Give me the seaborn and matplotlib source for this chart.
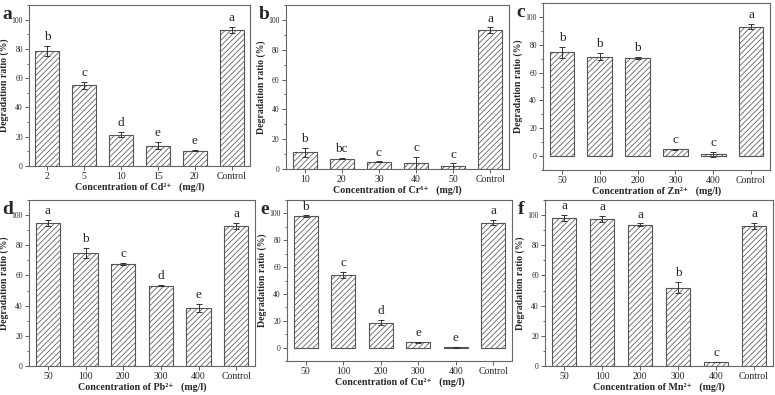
import numpy as np
import pandas as pd
import matplotlib
matplotlib.use("Agg")
import matplotlib.pyplot as plt
from matplotlib.ticker import MultipleLocator
import seaborn as sns

sns.set_theme(style="white")
plt.rcParams['font.family'] = ['Liberation Serif', 'DejaVu Serif']
plt.rcParams['hatch.color'] = '#808080'
plt.rcParams['hatch.linewidth'] = 0.55

# data
cd_conc = ["2", "5", "10", "15", "20", "Control"]
cd_mean = [78.5, 55.2, 21.5, 14.0, 10.5, 93.0]
cd_err = [3.5, 2.5, 2.0, 2.5, 0.3, 2.0]
cd_letters = ["b", "c", "d", "e", "e", "a"]

cr_conc = ["10", "20", "30", "40", "50", "Control"]
cr_mean = [11.2, 7.0, 5.0, 4.2, 1.8, 93.0]
cr_err = [3.0, 0.5, 0.1, 4.0, 2.0, 2.0]
cr_letters = ["b", "bc", "c", "c", "c", "a"]

zn_conc = ["50", "100", "200", "300", "400", "Control"]
zn_mean = [74.5, 71.5, 70.5, 5.0, 1.2, 93.0]
zn_err = [4.0, 2.5, 1.0, 0.3, 2.0, 2.0]
zn_letters = ["b", "b", "b", "c", "c", "a"]

pb_conc = ["50", "100", "200", "300", "400", "Control"]
pb_mean = [95.0, 75.0, 67.5, 53.2, 38.5, 93.0]
pb_err = [2.0, 3.5, 0.8, 0.3, 2.5, 2.0]
pb_letters = ["a", "b", "c", "d", "e", "a"]

cu_conc = ["50", "100", "200", "300", "400", "Control"]
cu_mean = [98.0, 54.0, 18.5, 3.8, 0.3, 93.0]
cu_err = [0.5, 2.5, 2.0, 0.3, 0.3, 2.0]
cu_letters = ["b", "c", "d", "e", "e", "a"]

mn_conc = ["50", "100", "200", "300", "400", "Control"]
mn_mean = [98.0, 97.5, 93.5, 52.0, 2.5, 93.0]
mn_err = [2.0, 2.0, 1.0, 3.5, 0.1, 2.0]
mn_letters = ["a", "a", "a", "b", "c", "a"]

panels = [
    ("a", "Cd²⁺", cd_conc, cd_mean, cd_err, cd_letters, (29, 250, 5, 166), 0),
    ("b", "Cr⁶⁺", cr_conc, cr_mean, cr_err, cr_letters, (286, 509, 5, 169), 0),
    ("c", "Zn²⁺", zn_conc, zn_mean, zn_err, zn_letters, (543, 770, 3, 170), -10),
    ("d", "Pb²⁺", pb_conc, pb_mean, pb_err, pb_letters, (29, 255, 200, 366), 0),
    ("e", "Cu²⁺", cu_conc, cu_mean, cu_err, cu_letters, (287, 512, 200, 361), -10),
    ("f", "Mn²⁺", mn_conc, mn_mean, mn_err, mn_letters, (545, 773, 200, 366), 0),
]

W, H = 775, 395
fig = plt.figure(figsize=(W / 100, H / 100), dpi=100)

for tag, ion, conc, mean, err, letters, box, ymin in panels:
    l, r, t, b = box
    ax = fig.add_axes([l / W, 1 - b / H, (r - l) / W, (b - t) / H])
    df = pd.DataFrame({"conc": conc, "ratio": mean})
    sns.barplot(data=df, x="conc", y="ratio", ax=ax, color="white",
                edgecolor="#555555", linewidth=0.8, width=0.65,
                hatch="//////", errorbar=None)
    xs = np.arange(len(conc))
    ax.errorbar(xs, mean, yerr=err, fmt="none", ecolor="#333333",
                elinewidth=0.7, capsize=2, capthick=0.7)
    for x, m, e, s in zip(xs, mean, err, letters):
        ax.annotate(s, (x, m + e), xytext=(0, 2), textcoords="offset points",
                    ha="center", va="bottom", fontsize=9.5)
    ax.set_xlim(-0.5, len(conc) - 0.5)
    ax.set_ylim(ymin, 110)
    ax.yaxis.set_major_locator(MultipleLocator(20))
    ax.yaxis.set_minor_locator(MultipleLocator(10))
    ax.set_yticks([v for v in range(0, 101, 20)])
    ax.tick_params(axis="both", which="both", direction="out", color="#444444",
                   bottom=True, left=True, width=0.6)
    ax.tick_params(axis="both", which="major", length=3)
    ax.tick_params(axis="y", which="minor", length=1.8)
    ax.tick_params(axis="y", labelsize=5.5, pad=1.5)
    ax.tick_params(axis="x", labelsize=7, pad=1.5)
    for sp in ax.spines.values():
        sp.set_color("#666666")
        sp.set_linewidth(0.8)
    ax.set_ylabel("Degradation ratio (%)", fontsize=7, fontweight="bold", labelpad=2)
    ax.set_xlabel("Concentration of " + ion + "   (mg/l)", fontsize=7.2,
                  fontweight="bold", labelpad=1)
    fig.text((l - 27) / W, 1 - (t + 14) / H, tag, fontsize=14, fontweight="bold",
             ha="left", va="baseline")

fig.savefig("out.png", dpi=100, facecolor="white")
